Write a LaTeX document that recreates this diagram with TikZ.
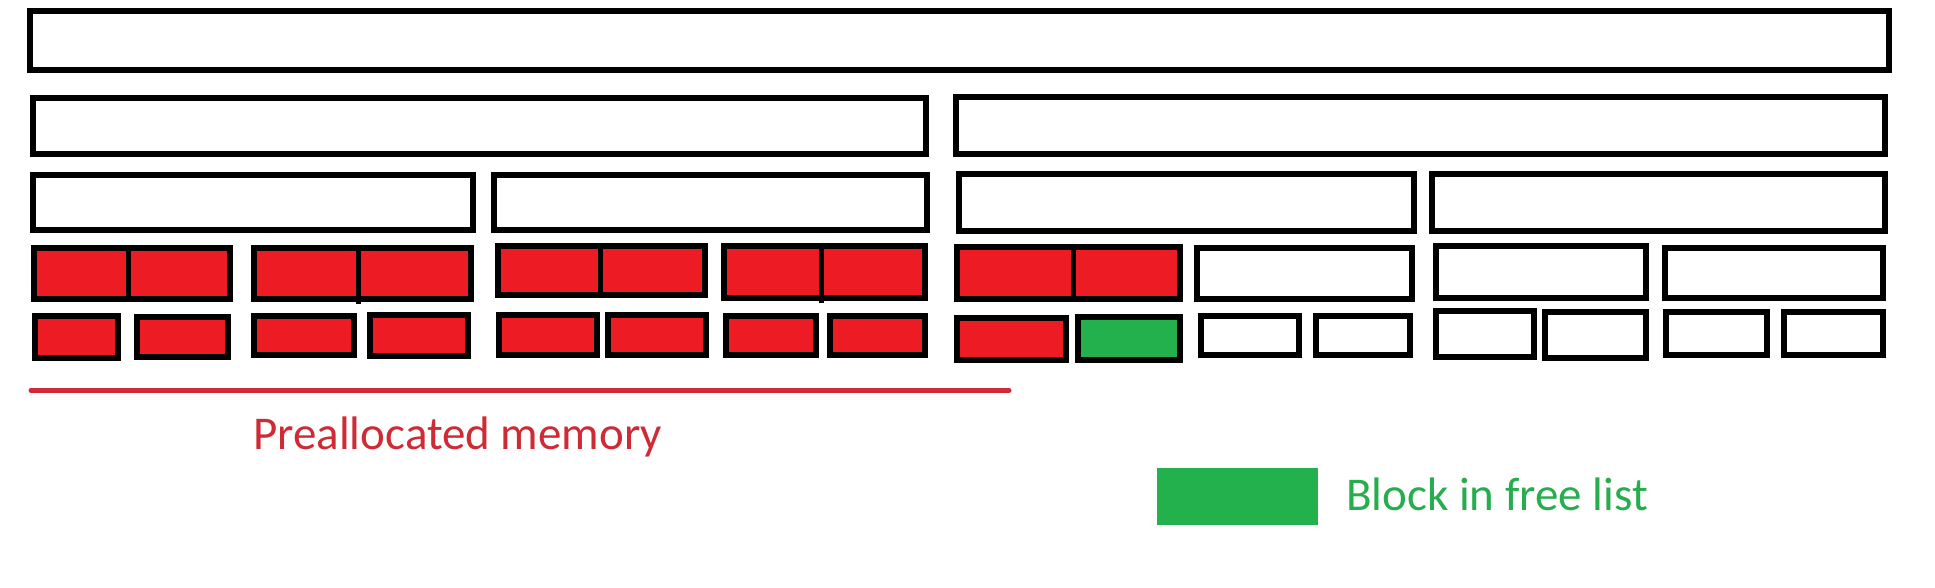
\documentclass[tikz,border=0pt]{standalone}
\usepackage{fontspec}
\setmainfont{Carlito}
\definecolor{blkred}{HTML}{ED1C24}
\definecolor{blkgreen}{HTML}{22B14C}
\definecolor{linered}{HTML}{CF2B36}
\definecolor{txtgreen}{HTML}{26AD4D}
\tikzset{
  blkline/.style={draw=black, line width=6pt, line join=miter},
  usedblk/.style={blkline, fill=blkred},
  freeblk/.style={blkline, fill=blkgreen},
  emptyblk/.style={blkline, fill=white},
  divline/.style={draw=black, line width=5pt},
  labeltext/.style={inner sep=0pt, anchor=base west, font=\fontsize{47}{50}\selectfont}
}
\newcommand\memblk[5]{\path[#1] (#2+3,#3+3) rectangle (#4-3,#5-3);}
\newcommand\memdiv[3]{\path[divline] (#1,#2) -- (#1,#3);}
\begin{document}
\begin{tikzpicture}[x=1pt,y=-1pt]
\useasboundingbox[fill=white] (0,0) rectangle (1935,587);
% row 1
\memblk{emptyblk}{27}{8}{1892}{73}
% row 2
\memblk{emptyblk}{30}{95}{929}{157}
\memblk{emptyblk}{953}{94}{1888}{157}
% row 3
\memblk{emptyblk}{30}{172}{476}{233}
\memblk{emptyblk}{491}{172}{930}{233}
\memblk{emptyblk}{956}{171}{1417}{234}
\memblk{emptyblk}{1429}{171}{1888}{234}
% row 4
\memblk{usedblk}{31}{245}{233}{302}   \memdiv{128}{247}{300}
\memblk{usedblk}{251}{245}{474}{302}  \memdiv{358}{247}{304}
\memblk{usedblk}{495}{243}{708}{298}  \memdiv{600}{245}{296}
\memblk{usedblk}{721}{243}{928}{301}  \memdiv{821}{245}{303}
\memblk{usedblk}{954}{244}{1183}{302} \memdiv{1073}{246}{300}
\memblk{emptyblk}{1194}{245}{1415}{302}
\memblk{emptyblk}{1433}{243}{1649}{301}
\memblk{emptyblk}{1662}{245}{1886}{301}
% row 5
\memblk{usedblk}{32}{313}{121}{361}
\memblk{usedblk}{134}{314}{231}{360}
\memblk{usedblk}{251}{313}{357}{358}
\memblk{usedblk}{367}{312}{471}{359}
\memblk{usedblk}{496}{312}{600}{358}
\memblk{usedblk}{605}{312}{709}{358}
\memblk{usedblk}{723}{313}{819}{358}
\memblk{usedblk}{827}{313}{928}{358}
\memblk{usedblk}{954}{315}{1069}{363}
\memblk{freeblk}{1075}{314}{1183}{363}
\memblk{emptyblk}{1198}{313}{1302}{358}
\memblk{emptyblk}{1313}{313}{1413}{358}
\memblk{emptyblk}{1433}{308}{1537}{360}
\memblk{emptyblk}{1542}{309}{1649}{361}
\memblk{emptyblk}{1663}{309}{1770}{358}
\memblk{emptyblk}{1781}{309}{1886}{358}
% preallocated line and label
\coordinate (lineL) at (31,390.5);
\coordinate (lineR) at (1009,390.5);
\draw[linered, line width=5pt, line cap=round] (lineL) -- (lineR);
\node[labeltext, text=linered] (prelabel) at (253,449) {Preallocated memory};
% legend
\node[fill=blkgreen, inner sep=0pt, minimum width=161pt, minimum height=57pt, anchor=north west] (legendbox) at (1157,468) {};
\node[labeltext, text=txtgreen] (legendlabel) at (1346,510) {Block in free list};
\end{tikzpicture}
\end{document}
